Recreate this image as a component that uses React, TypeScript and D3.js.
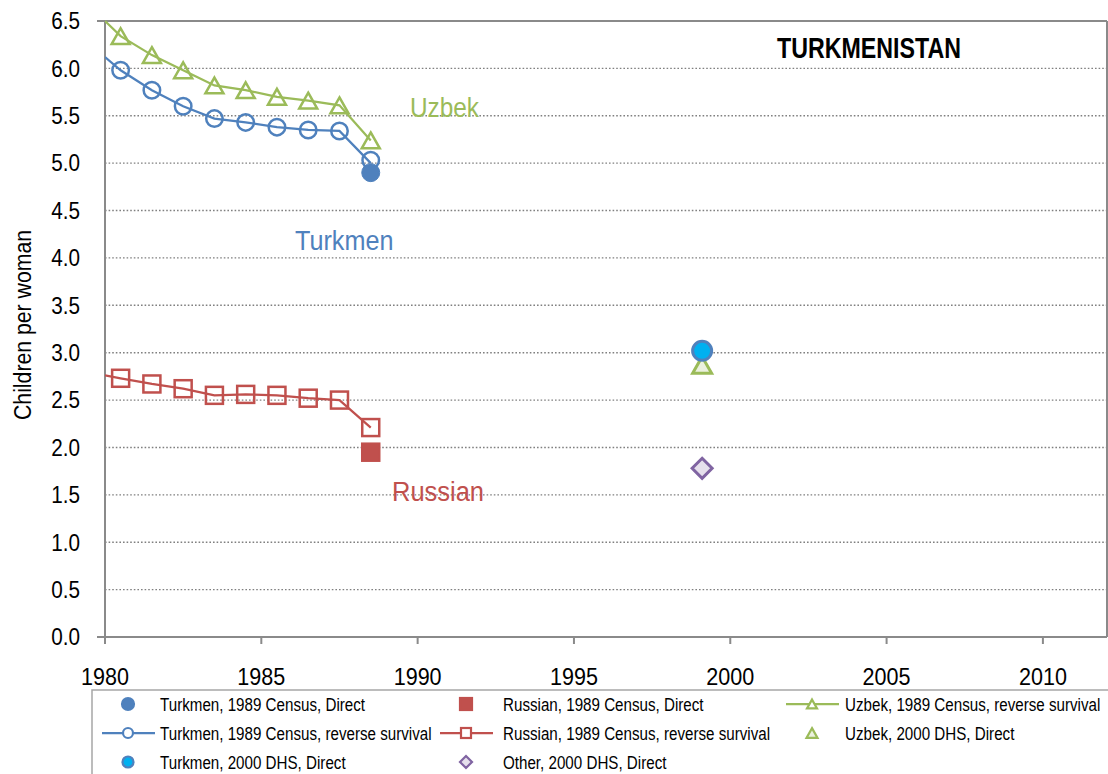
import React from "react";
import * as d3 from "d3";

// Reverse-survival estimates from the 1989 census (mid-year points)
const rsYears = [1980.5, 1981.5, 1982.5, 1983.5, 1984.5, 1985.5, 1986.5, 1987.5, 1988.5];
const turkmenRS = [5.98, 5.77, 5.6, 5.47, 5.43, 5.38, 5.35, 5.34, 5.03];
const russianRS = [2.73, 2.67, 2.62, 2.55, 2.56, 2.55, 2.52, 2.5, 2.21];
const uzbekRS = [6.34, 6.14, 5.98, 5.82, 5.77, 5.7, 5.66, 5.61, 5.24];
// Where each reverse-survival curve enters the plot at 1980
const lineStartYear = 1980;
const turkmenRSStart = 6.12;
const russianRSStart = 2.76;
const uzbekRSStart = 6.5;
// Line endpoint at the last estimate
const turkmenRSEnd = 5.0;
const russianRSEnd = 2.21;
const uzbekRSEnd = 5.24;

// Direct estimates
const censusYear = 1988.5;
const turkmenCensusDirect = 4.9;
const russianCensusDirect = 1.95;
const dhsYear = 1999.1;
const turkmenDHS = 3.02;
const uzbekDHS = 2.87;
const otherDHS = 1.78;

const yTicks = [0, 0.5, 1, 1.5, 2, 2.5, 3, 3.5, 4, 4.5, 5, 5.5, 6, 6.5];
const xTicks = [1980, 1985, 1990, 1995, 2000, 2005, 2010];

const BLUE = "#4F81BD";
const RED = "#C0504D";
const GREEN = "#9BBB59";
const CYAN = "#00B0F0";
const PURPLE = "#8064A2";
const FONT = "'Liberation Sans', Arial, sans-serif";

const W = 1108;
const H = 774;
const left = 105;
const right = 1107;
const top = 21;
const bottom = 637;

const x = d3.scaleLinear().domain([1980, 2012.05]).range([left, right]);
const y = d3.scaleLinear().domain([0, 6.5]).range([bottom, top]);

type Shape = "circle" | "square" | "triangle" | "diamond";

function Marker({ shape, cx, cy, size, fill, stroke, sw }: { shape: Shape; cx: number; cy: number; size: number; fill: string; stroke: string; sw: number }) {
  const h = size / 2;
  if (shape === "circle") return <circle cx={cx} cy={cy} r={h} fill={fill} stroke={stroke} strokeWidth={sw} />;
  if (shape === "square") return <rect x={cx - h} y={cy - h} width={size} height={size} fill={fill} stroke={stroke} strokeWidth={sw} />;
  if (shape === "diamond")
    return <path d={`M${cx},${cy - h}L${cx + h},${cy}L${cx},${cy + h}L${cx - h},${cy}Z`} fill={fill} stroke={stroke} strokeWidth={sw} strokeLinejoin="miter" />;
  const th = size * 0.88;
  return <path d={`M${cx},${cy - th / 2}L${cx + h},${cy + th / 2}L${cx - h},${cy + th / 2}Z`} fill={fill} stroke={stroke} strokeWidth={sw} strokeLinejoin="miter" />;
}

// Condensed text: the sans face squeezed horizontally around its anchor
function Txt({ x: tx, y: ty, sx, size, anchor = "start", fill = "#000", weight = "normal", rotate = 0, dy, children }: {
  x: number; y: number; sx: number; size: number; anchor?: string; fill?: string; weight?: string; rotate?: number; dy?: string; children: React.ReactNode;
}) {
  return (
    <text
      transform={`translate(${tx},${ty}) rotate(${rotate}) scale(${sx},1)`}
      textAnchor={anchor}
      fontSize={size}
      fontWeight={weight}
      fill={fill}
      dy={dy}
    >
      {children}
    </text>
  );
}

const line = d3
  .line<[number, number]>()
  .x((d) => x(d[0]))
  .y((d) => y(d[1]));

function rsPath(start: number, vals: number[], end: number) {
  const pts: [number, number][] = [[lineStartYear, start]];
  rsYears.slice(0, -1).forEach((yr, i) => pts.push([yr, vals[i]]));
  pts.push([rsYears[rsYears.length - 1], end]);
  return line(pts) || "";
}

const rsSeries = [
  { start: uzbekRSStart, vals: uzbekRS, end: uzbekRSEnd, color: GREEN, shape: "triangle" as Shape, size: 18 },
  { start: turkmenRSStart, vals: turkmenRS, end: turkmenRSEnd, color: BLUE, shape: "circle" as Shape, size: 16.5 },
  { start: russianRSStart, vals: russianRS, end: russianRSEnd, color: RED, shape: "square" as Shape, size: 17 },
];

const legendRows = [704, 733, 762];
const legendCols = [{ mx: 128, tx: 160 }, { mx: 466, tx: 503 }, { mx: 812, tx: 845 }];
const legendItems: { col: number; row: number; label: string; shape: Shape; fill: string; stroke: string; size: number; line?: string }[] = [
  { col: 0, row: 0, label: "Turkmen, 1989 Census, Direct", shape: "circle", fill: BLUE, stroke: BLUE, size: 12 },
  { col: 0, row: 1, label: "Turkmen, 1989 Census, reverse survival", shape: "circle", fill: "#fff", stroke: BLUE, size: 10, line: BLUE },
  { col: 0, row: 2, label: "Turkmen, 2000 DHS, Direct", shape: "circle", fill: CYAN, stroke: BLUE, size: 11 },
  { col: 1, row: 0, label: "Russian, 1989 Census, Direct", shape: "square", fill: RED, stroke: RED, size: 12 },
  { col: 1, row: 1, label: "Russian, 1989 Census, reverse survival", shape: "square", fill: "#fff", stroke: RED, size: 10, line: RED },
  { col: 1, row: 2, label: "Other, 2000 DHS, Direct", shape: "diamond", fill: "#E6E0EC", stroke: PURPLE, size: 12 },
  { col: 2, row: 0, label: "Uzbek, 1989 Census, reverse survival", shape: "triangle", fill: "#fff", stroke: GREEN, size: 10, line: GREEN },
  { col: 2, row: 1, label: "Uzbek, 2000 DHS, Direct", shape: "triangle", fill: "#EBF1DE", stroke: GREEN, size: 11 },
];

export default function App() {
  return (
    <svg width={W} height={H} style={{ position: "absolute", left: 0, top: 0, background: "#fff" }} fontFamily={FONT}>
      <defs>
        <clipPath id="plot">
          <rect x={left} y={top - 12} width={right - left} height={bottom - top + 12} />
        </clipPath>
      </defs>
      {/* gridlines */}
      {yTicks.filter((t) => t > 0 && t < 6.5).map((t) => (
        <line key={t} x1={left} x2={right} y1={y(t)} y2={y(t)} stroke="#808080" strokeWidth={1.4} strokeDasharray="1.6,2" />
      ))}
      {/* frame */}
      <line x1={left - 8} x2={right} y1={y(6.5)} y2={y(6.5)} stroke="#8a8a8a" strokeWidth={2} />
      <line x1={right} x2={right} y1={top} y2={bottom} stroke="#8a8a8a" strokeWidth={2} />
      <line x1={left} x2={left} y1={top} y2={bottom} stroke="#8a8a8a" strokeWidth={2} />
      <line x1={left - 8} x2={right} y1={bottom} y2={bottom} stroke="#8a8a8a" strokeWidth={2} />
      {xTicks.map((t) => (
        <line key={t} x1={x(t)} x2={x(t)} y1={bottom} y2={bottom + 7} stroke="#8a8a8a" strokeWidth={2} />
      ))}
      {/* tick labels */}
      {yTicks.map((t) => (
        <Txt key={t} x={80} y={y(t)} dy="0.36em" anchor="end" size={23} sx={0.9}>
          {d3.format(".1f")(t)}
        </Txt>
      ))}
      {xTicks.map((t) => (
        <Txt key={t} x={x(t)} y={685} anchor="middle" size={24.5} sx={0.88}>
          {t}
        </Txt>
      ))}
      <Txt x={31} y={325} rotate={-90} anchor="middle" size={24} sx={0.885}>
        Children per woman
      </Txt>
      <Txt x={869} y={58} anchor="middle" size={29} sx={0.8} weight="bold">
        TURKMENISTAN
      </Txt>

      {/* reverse survival series */}
      <g clipPath="url(#plot)">
        {rsSeries.map((s, i) => (
          <g key={i}>
            <path d={rsPath(s.start, s.vals, s.end)} fill="none" stroke={s.color} strokeWidth={2.25} />
            {rsYears.map((yr, j) => (
              <Marker key={j} shape={s.shape} cx={x(yr)} cy={y(s.vals[j])} size={s.size} fill="none" stroke={s.color} sw={2.5} />
            ))}
          </g>
        ))}
      </g>
      {/* direct estimates */}
      <Marker shape="circle" cx={x(censusYear)} cy={y(turkmenCensusDirect)} size={18} fill={BLUE} stroke={BLUE} sw={1} />
      <Marker shape="square" cx={x(censusYear)} cy={y(russianCensusDirect)} size={18} fill={RED} stroke={RED} sw={1.5} />
      <Marker shape="triangle" cx={x(dhsYear)} cy={y(uzbekDHS)} size={19} fill="#EBF1DE" stroke={GREEN} sw={3} />
      <Marker shape="circle" cx={x(dhsYear)} cy={y(turkmenDHS)} size={19} fill={CYAN} stroke={BLUE} sw={3} />
      <Marker shape="diamond" cx={x(dhsYear)} cy={y(otherDHS)} size={20} fill="#E6E0EC" stroke={PURPLE} sw={3} />

      {/* series labels */}
      <Txt x={410} y={117} size={28} sx={0.87} fill={GREEN}>Uzbek</Txt>
      <Txt x={295} y={250} size={28} sx={0.9} fill={BLUE}>Turkmen</Txt>
      <Txt x={392} y={501} size={28} sx={0.91} fill={RED}>Russian</Txt>

      {/* legend */}
      <rect x={92} y={690} width={W} height={200} fill="#fff" stroke="#a6a6a6" strokeWidth={1.5} />
      {legendItems.map((it, i) => {
        const c = legendCols[it.col];
        const ry = legendRows[it.row];
        return (
          <g key={i}>
            {it.line && <line x1={c.mx - 26} x2={c.mx + 27} y1={ry} y2={ry} stroke={it.line} strokeWidth={2.25} />}
            <Marker shape={it.shape} cx={c.mx} cy={ry} size={it.size} fill={it.fill} stroke={it.stroke} sw={2.2} />
            <Txt x={c.tx} y={ry} dy="0.36em" size={18.5} sx={0.82}>{it.label}</Txt>
          </g>
        );
      })}
    </svg>
  );
}
